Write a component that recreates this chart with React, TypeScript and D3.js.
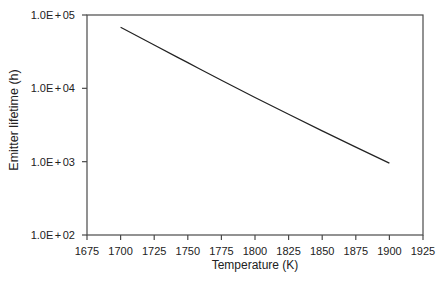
import React from "react";
import * as d3 from "d3";

const temperatures = [1700, 1725, 1750, 1775, 1800, 1825, 1850, 1875, 1900];
const lifetimes = [67900, 38900, 22400, 12900, 7500, 4420, 2630, 1580, 955];
const xTicks = [1675, 1700, 1725, 1750, 1775, 1800, 1825, 1850, 1875, 1900, 1925];
const yTicks = [1e2, 1e3, 1e4, 1e5];
const yTickLabels = ["1.0E+02", "1.0E+03", "1.0E+04", "1.0E+05"];
const xTitle = "Temperature (K)";
const yTitle = "Emitter lifetime (h)";

const W = 444;
const H = 281;
const M = { left: 87, right: 21, top: 15, bottom: 46 };
const FONT = "'Liberation Sans', Arial, Helvetica, sans-serif";

export default function App() {
  const x = d3.scaleLinear().domain([1675, 1925]).range([M.left, W - M.right]);
  const y = d3.scaleLog().domain([1e2, 1e5]).range([H - M.bottom, M.top]);
  const line = d3
    .line<number>()
    .x((_, i) => x(temperatures[i]))
    .y((d) => y(d))
    .curve(d3.curveMonotoneX);
  const x0 = x(1675), x1 = x(1925), y0 = y(1e2), y1 = y(1e5);
  const axisColor = "#4a4a4a";
  return (
    <svg width={W} height={H} style={{ position: "absolute", left: 0, top: 0, background: "#fff" }}>
      <rect x={0} y={0} width={W} height={H} fill="#fff" />
      <rect x={x0} y={y1} width={x1 - x0} height={y0 - y1} fill="none" stroke={axisColor} strokeWidth={1.2} />
      {xTicks.map((t) => (
        <g key={t}>
          <line x1={x(t)} x2={x(t)} y1={y0} y2={y0 + 5} stroke={axisColor} strokeWidth={1.2} />
          <text x={x(t)} y={254.5} textAnchor="middle" fontFamily={FONT} fontSize={11} fill="#222">
            {t}
          </text>
        </g>
      ))}
      {yTicks.map((t, i) => {
        const lab = yTickLabels[i];
        const [mant, exp] = lab.split("+");
        return (
          <g key={t}>
            <line x1={x0 - 5} x2={x0} y1={y(t)} y2={y(t)} stroke={axisColor} strokeWidth={1.2} />
            <text x={x0 - 12} y={y(t) + 4} textAnchor="end" fontFamily={FONT} fontSize={11} fill="#222">
              <tspan>{mant}</tspan>
              <tspan dx={1.5}>+</tspan>
              <tspan dx={1.5}>{exp}</tspan>
            </text>
          </g>
        );
      })}
      <path d={line(lifetimes) || ""} fill="none" stroke="#222" strokeWidth={1.2} />
      <text x={(x0 + x1) / 2} y={269} textAnchor="middle" fontFamily={FONT} fontSize={12} fill="#222">
        {xTitle}
      </text>
      <text
        transform={`translate(18, 120) rotate(-90)`}
        textAnchor="middle"
        fontFamily={FONT}
        fontSize={12.5}
        fill="#222"
      >
        {yTitle}
      </text>
    </svg>
  );
}
